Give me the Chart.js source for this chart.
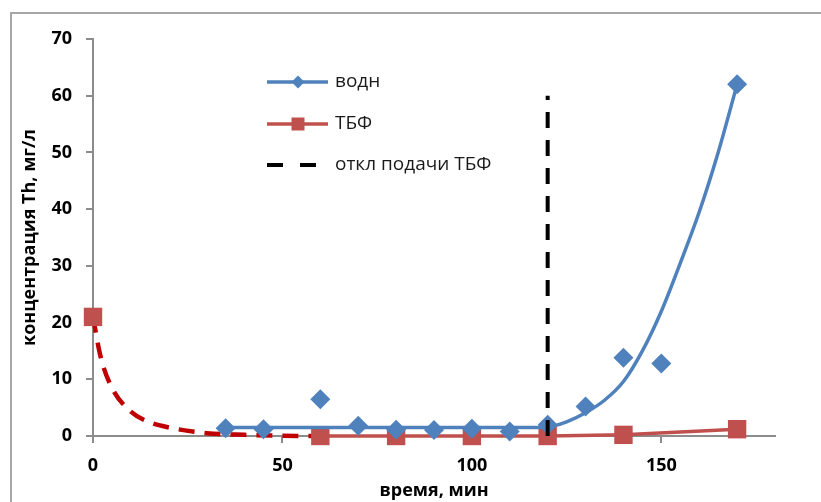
<!DOCTYPE html>
<html>
<head>
<meta charset="utf-8">
<script src="https://cdn.jsdelivr.net/npm/chart.js@4/dist/chart.umd.min.js"></script>
<style>
  html, body { margin: 0; padding: 0; background: #fff; overflow: hidden; }
  #wrap { position: relative; width: 821px; height: 502px; }
  #frame { position: absolute; left: 10px; top: 12px; width: 900px; height: 600px; border: 2px solid #a6a6a6; box-sizing: border-box; }
  canvas { position: absolute; left: 0; top: 0; }
</style>
</head>
<body>
<div id="wrap">
  <div id="frame"></div>
  <canvas id="chart" width="821" height="502"></canvas>
</div>
<script>
// водн - measured points
var timeWater = [35, 45, 60, 70, 80, 90, 100, 110, 120, 130, 140, 150, 170];
var water     = [1.35, 1.2, 6.5, 1.8, 1.1, 1.05, 1.3, 0.8, 2.0, 5.2, 13.8, 12.8, 62];

// водн - trend curve
var timeWaterFit = [35, 60, 90, 115, 120, 125, 130, 135, 140, 145, 150, 155, 160, 165, 170];
var waterFit     = [1.5, 1.5, 1.5, 1.5, 1.6, 2.5, 4.1, 6.3, 9.6, 15, 22, 30.5, 39.5, 50, 62];

// ТБФ
var timeTbf = [0, 60, 80, 100, 120, 140, 170];
var tbf     = [21, 0, 0, 0, 0, 0.2, 1.2];

// ТБФ - dashed decay at start
var timeTbfDecay = [0, 2, 5, 10, 15, 20, 30, 40, 50, 58];
var tbfDecay     = [21, 14, 8.5, 4.3, 2.4, 1.5, 0.5, 0.2, 0.05, 0];

// откл подачи ТБФ
var timeCutoff = [120, 120];
var cutoff     = [0, 60];

var xTicks = [0, 50, 100, 150];

var labels = ['водн', 'ТБФ', 'откл подачи ТБФ'];

var BLUE = '#4F81BD', RED = '#C0504D', DARKRED = '#C00000', AXIS = '#8c8c8c';
var FONT = "'Open Sans', 'Noto Sans', sans-serif";

function pts(xs, ys) {
	return xs.map(function(x, i) { return {x: x, y: ys[i]}; });
}

// legend drawn inside the plot like in the original
var legendPlugin = {
	id: 'insideLegend',
	afterDraw: function(chart) {
		var ctx = chart.ctx;
		var x0 = 267, x1 = 328, mid = 298, tx = 335;
		var rows = [82, 124, 165];
		ctx.save();
		ctx.lineCap = 'butt';
		// водн
		ctx.strokeStyle = BLUE; ctx.lineWidth = 3.5;
		ctx.beginPath(); ctx.moveTo(x0, rows[0]); ctx.lineTo(x1, rows[0]); ctx.stroke();
		ctx.fillStyle = BLUE;
		ctx.beginPath();
		ctx.moveTo(mid - 6.5, rows[0]); ctx.lineTo(mid, rows[0] - 6.5);
		ctx.lineTo(mid + 6.5, rows[0]); ctx.lineTo(mid, rows[0] + 6.5);
		ctx.closePath(); ctx.fill();
		// ТБФ
		ctx.strokeStyle = RED;
		ctx.beginPath(); ctx.moveTo(x0, rows[1]); ctx.lineTo(x1, rows[1]); ctx.stroke();
		ctx.fillStyle = RED;
		ctx.fillRect(mid - 6.5, rows[1] - 6.5, 13, 13);
		// cutoff
		ctx.strokeStyle = '#000'; ctx.lineWidth = 4;
		ctx.beginPath();
		ctx.moveTo(x0, rows[2]); ctx.lineTo(x0 + 16, rows[2]);
		ctx.moveTo(x0 + 33, rows[2]); ctx.lineTo(x0 + 49, rows[2]);
		ctx.stroke();
		// texts
		ctx.fillStyle = '#1a1a1a';
		ctx.font = '19px ' + FONT;
		ctx.textBaseline = 'middle';
		for (var i = 0; i < labels.length; i++) {
			ctx.fillText(labels[i], tx, rows[i]);
		}
		ctx.restore();
	}
};

new Chart(document.getElementById('chart'), {
	type: 'line',
	data: {
		datasets: [
			{
				label: labels[2],
				data: pts(timeCutoff, cutoff),
				borderColor: '#000',
				borderWidth: 4,
				borderDash: [16, 12],
				pointRadius: 0,
				clip: false
			},
			{
				label: labels[0],
				data: pts(timeWater, water),
				showLine: false,
				pointStyle: 'rectRot',
				pointRadius: 10,
				pointBackgroundColor: BLUE,
				pointBorderColor: BLUE,
				pointBorderWidth: 0,
				clip: false
			},
			{
				label: labels[0] + ' fit',
				data: pts(timeWaterFit, waterFit),
				borderColor: BLUE,
				borderWidth: 3.5,
				pointRadius: 0,
				cubicInterpolationMode: 'monotone',
				clip: false
			},
			{
				label: labels[1],
				data: pts(timeTbf, tbf),
				borderColor: RED,
				borderWidth: 3.5,
				pointStyle: 'rect',
				pointRadius: 13,
				pointBackgroundColor: RED,
				pointBorderColor: RED,
				pointBorderWidth: 0,
				clip: false,
				segment: {
					borderColor: function(c) { return c.p0DataIndex === 0 ? 'rgba(0,0,0,0)' : RED; }
				}
			},
			{
				label: labels[1] + ' decay',
				data: pts(timeTbfDecay, tbfDecay),
				borderColor: DARKRED,
				borderWidth: 4.5,
				borderDash: [16, 10],
				pointRadius: 0,
				cubicInterpolationMode: 'monotone',
				clip: false
			}
		]
	},
	options: {
		responsive: false,
		animation: false,
		layout: { padding: { left: 0, top: 39, right: 46, bottom: 0 } },
		plugins: {
			legend: { display: false },
			tooltip: { enabled: false }
		},
		scales: {
			x: {
				type: 'linear',
				min: 0,
				max: 180,
				afterBuildTicks: function(scale) {
					scale.ticks = xTicks.map(function(v) { return {value: v}; });
				},
				afterFit: function(scale) { scale.height = 66; },
				grid: { display: true, drawOnChartArea: false, drawTicks: true, tickLength: 7, color: AXIS, lineWidth: 2 },
				border: { display: true, color: AXIS, width: 2 },
				ticks: { padding: 12, color: '#000', font: { family: FONT, size: 18, weight: 'bold' } },
				title: {
					display: true,
					text: 'время, мин',
					color: '#000',
					padding: { top: 0, bottom: 0 },
					font: { family: FONT, size: 18, weight: 'bold' }
				}
			},
			y: {
				min: 0,
				max: 70,
				ticks: { stepSize: 10, padding: 14, color: '#000', font: { family: FONT, size: 18, weight: 'bold' } },
				afterFit: function(scale) { scale.width = 93; },
				grid: { display: true, drawOnChartArea: false, drawTicks: true, tickLength: 7, color: AXIS, lineWidth: 2 },
				border: { display: true, color: AXIS, width: 2 },
				title: {
					display: true,
					text: 'концентрация Th, мг/л',
					color: '#000',
					padding: { top: 19, bottom: 0 },
					font: { family: FONT, size: 18, weight: 'bold' }
				}
			}
		}
	},
	plugins: [legendPlugin]
});
</script>
</body>
</html>
